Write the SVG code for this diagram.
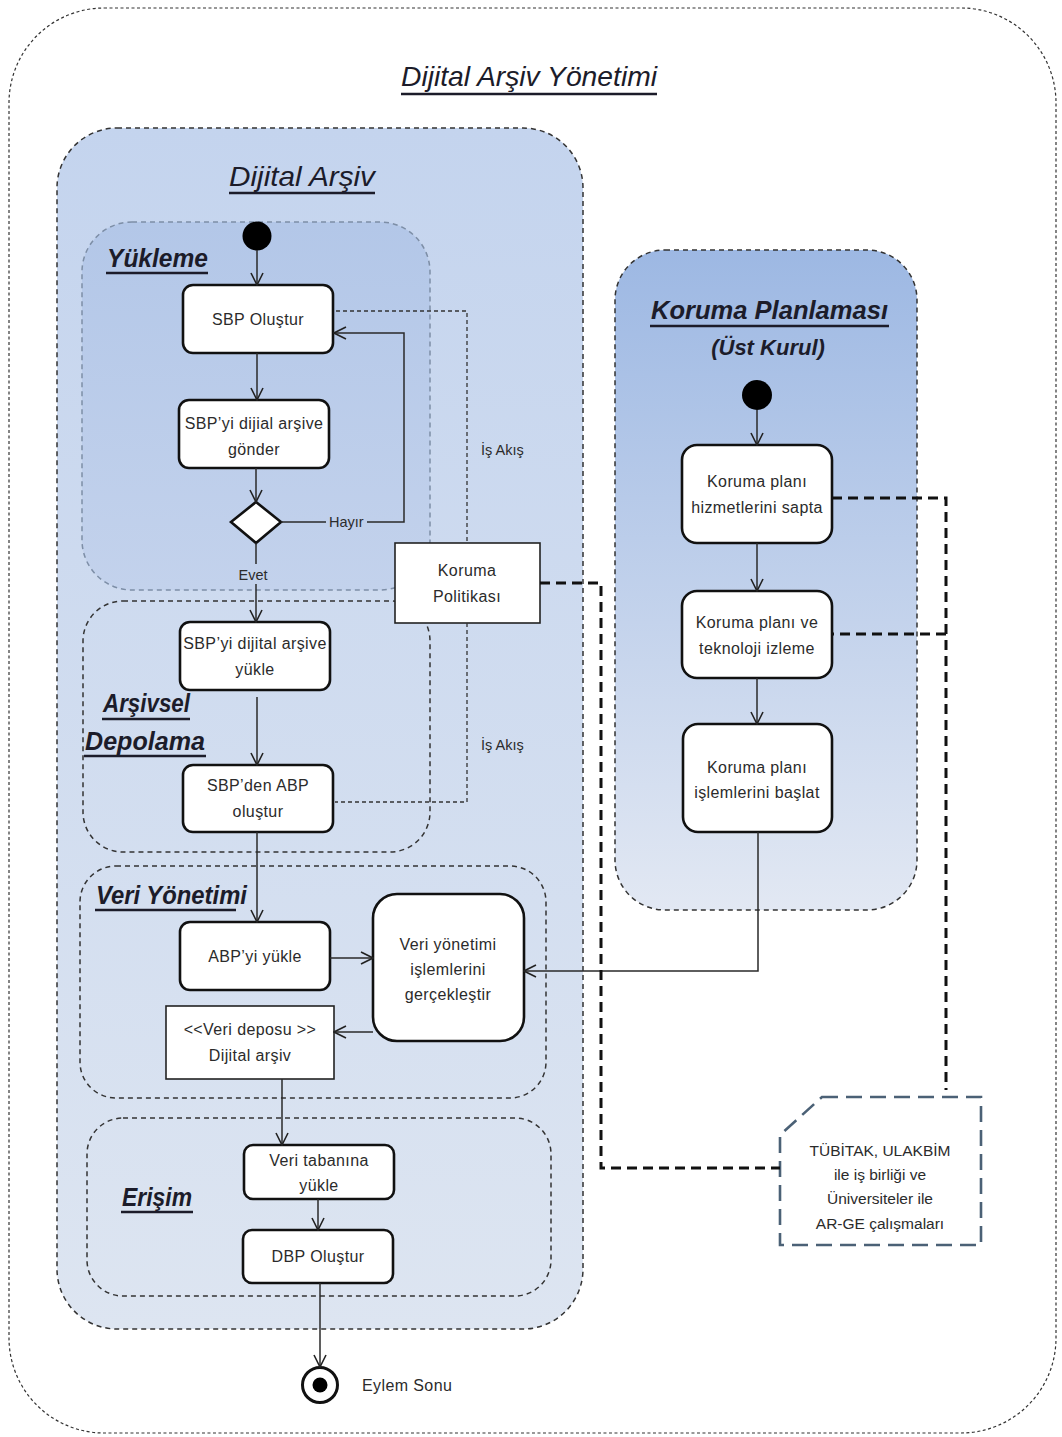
<svg xmlns="http://www.w3.org/2000/svg" width="1062" height="1437" viewBox="0 0 1062 1437">
  <defs>
    <linearGradient id="gArchive" x1="0" y1="0" x2="0" y2="1">
      <stop offset="0" stop-color="#c4d4ee"/>
      <stop offset="1" stop-color="#dde5f1"/>
    </linearGradient>
    <linearGradient id="gUpload" x1="0" y1="0" x2="0" y2="1">
      <stop offset="0" stop-color="#b3c7e8"/>
      <stop offset="1" stop-color="#c3d2ec"/>
    </linearGradient>
    <linearGradient id="gPlan" x1="0" y1="0" x2="0" y2="1">
      <stop offset="0" stop-color="#9db8e3"/>
      <stop offset="1" stop-color="#e2e8f3"/>
    </linearGradient>
    <marker id="arr" viewBox="0 0 14 14" refX="13" refY="7" markerWidth="14" markerHeight="14" orient="auto" markerUnits="userSpaceOnUse">
      <path d="M1,1 L13,7 L1,13" fill="none" stroke="#222" stroke-width="1.6"/>
    </marker>
  </defs>
  <style>
    .frame { fill: #ffffff; stroke: #333; stroke-width: 1.2; stroke-dasharray: 3 2.5; }
    .zone { stroke: #333; stroke-width: 1.5; stroke-dasharray: 5 4; }
    .zoneSoft { stroke: #7d8ea6; stroke-width: 1.5; stroke-dasharray: 5 4; }
    .act { fill: #ffffff; stroke: #111; stroke-width: 2.6; }
    .obj { fill: #ffffff; stroke: #222; stroke-width: 1.6; }
    .note { fill: #ffffff; stroke: #4b6176; stroke-width: 2.6; stroke-dasharray: 16 8; }
    .flow { fill: none; stroke: #2a2a2a; stroke-width: 1.5; }
    .thin { fill: none; stroke: #333; stroke-width: 1.3; stroke-dasharray: 4 3; }
    .thick { fill: none; stroke: #111; stroke-width: 3; stroke-dasharray: 10 6; }
    .uline { stroke: #1c1c2a; stroke-width: 2.6; }
    text { font-family: "Liberation Sans", Arial, sans-serif; fill: #2b2b2b; }
    .lbl { font-size: 16px; letter-spacing: 0.4px; text-anchor: middle; }
    .nt { font-size: 15.5px; text-anchor: middle; }
    .small { font-size: 14.5px; }
    .title { font-style: italic; fill: #1c1c2a; }
    .bt { font-style: italic; font-weight: bold; fill: #1c1c2a; }
  </style>

  <!-- outer frame -->
  <g id="dijital-arsiv-yonetimi">
    <rect class="frame" x="9" y="8" width="1047" height="1425" rx="95"/>
    <text class="title" x="401" y="86" font-size="28" textLength="256" lengthAdjust="spacingAndGlyphs">Dijital Arşiv Yönetimi</text>
    <line class="uline" x1="401" y1="94" x2="657" y2="94"/>
  </g>

  <!-- digital archive container -->
  <g id="dijital-arsiv">
    <rect class="zone" x="57" y="128" width="526" height="1201" rx="60" fill="url(#gArchive)"/>
    <text class="title" x="229" y="186" font-size="28" textLength="146" lengthAdjust="spacingAndGlyphs">Dijital Arşiv</text>
    <line class="uline" x1="229" y1="193" x2="375" y2="193"/>
  </g>

  <g id="yukleme">
    <rect class="zoneSoft" x="82" y="222" width="348" height="368" rx="50" fill="url(#gUpload)"/>
    <text class="bt" x="107" y="267" font-size="25" textLength="101" lengthAdjust="spacingAndGlyphs">Yükleme</text>
    <line class="uline" x1="106" y1="273" x2="208" y2="273"/>
  </g>

  <g id="arsivsel-depolama">
    <rect class="zone" x="83" y="601" width="347" height="251" rx="40" fill="none"/>
    <text class="bt" x="103" y="712" font-size="25" textLength="87" lengthAdjust="spacingAndGlyphs">Arşivsel</text>
    <line class="uline" x1="102" y1="719" x2="190" y2="719"/>
    <text class="bt" x="85" y="750" font-size="25" textLength="120" lengthAdjust="spacingAndGlyphs">Depolama</text>
    <line class="uline" x1="84" y1="756" x2="206" y2="756"/>
  </g>

  <g id="veri-yonetimi">
    <rect class="zone" x="80" y="866" width="466" height="232" rx="36" fill="none"/>
    <text class="bt" x="96" y="904" font-size="25" textLength="151" lengthAdjust="spacingAndGlyphs">Veri Yönetimi</text>
    <line class="uline" x1="95" y1="910" x2="236" y2="910"/>
  </g>

  <g id="erisim">
    <rect class="zone" x="87" y="1118" width="464" height="178" rx="36" fill="none"/>
    <text class="bt" x="122" y="1206" font-size="25" textLength="70" lengthAdjust="spacingAndGlyphs">Erişim</text>
    <line class="uline" x1="121" y1="1212" x2="193" y2="1212"/>
  </g>

  <g id="koruma-planlamasi">
    <rect class="zone" x="615" y="250" width="302" height="660" rx="50" fill="url(#gPlan)" stroke-dasharray="4 3"/>
    <text class="bt" x="651" y="319" font-size="26" textLength="237" lengthAdjust="spacingAndGlyphs">Koruma Planlaması</text>
    <line class="uline" x1="650" y1="326" x2="889" y2="326"/>
    <text class="bt" x="768" y="355" font-size="22" text-anchor="middle">(Üst Kurul)</text>
  </g>

  <!-- activity flow: archive side -->
  <g id="baslangic">
    <circle cx="257" cy="236" r="14.5" fill="#000"/>
  </g>
  <g id="sbp-olustur">
    <rect class="act" x="183" y="285" width="150" height="68" rx="10"/>
    <text class="lbl" x="258" y="325">SBP Oluştur</text>
  </g>
  <g id="sbp-gonder">
    <rect class="act" x="179" y="400" width="150" height="68" rx="10"/>
    <text class="lbl" x="254" y="429">SBP’yi dijial arşive</text>
    <text class="lbl" x="254" y="455">gönder</text>
  </g>
  <g id="karar">
    <polygon points="256,502 281,522 256,543 231,522" fill="#fff" stroke="#111" stroke-width="2.6"/>
  </g>
  <g id="sbp-yukle">
    <rect class="act" x="180" y="622" width="150" height="68" rx="10"/>
    <text class="lbl" x="255" y="649">SBP’yi dijital arşive</text>
    <text class="lbl" x="255" y="675">yükle</text>
  </g>
  <g id="abp-olustur">
    <rect class="act" x="183" y="765" width="150" height="67" rx="10"/>
    <text class="lbl" x="258" y="791">SBP’den ABP</text>
    <text class="lbl" x="258" y="817">oluştur</text>
  </g>
  <g id="abp-yukle">
    <rect class="act" x="180" y="922" width="150" height="68" rx="10"/>
    <text class="lbl" x="255" y="962">ABP’yi yükle</text>
  </g>
  <g id="veri-islemleri">
    <rect class="act" x="373" y="894" width="151" height="147" rx="24"/>
    <text class="lbl" x="448" y="950">Veri yönetimi</text>
    <text class="lbl" x="448" y="975">işlemlerini</text>
    <text class="lbl" x="448" y="1000">gerçekleştir</text>
  </g>
  <g id="veri-deposu">
    <rect class="obj" x="166" y="1006" width="168" height="73"/>
    <text class="lbl" x="250" y="1035">&lt;&lt;Veri deposu &gt;&gt;</text>
    <text class="lbl" x="250" y="1061">Dijital arşiv</text>
  </g>
  <g id="veri-tabani">
    <rect class="act" x="244" y="1145" width="150" height="54" rx="9"/>
    <text class="lbl" x="319" y="1166">Veri tabanına</text>
    <text class="lbl" x="319" y="1191">yükle</text>
  </g>
  <g id="dbp-olustur">
    <rect class="act" x="243" y="1230" width="150" height="53" rx="9"/>
    <text class="lbl" x="318" y="1262">DBP Oluştur</text>
  </g>
  <g id="eylem-sonu">
    <circle cx="320" cy="1385" r="17.5" fill="#fff" stroke="#111" stroke-width="3"/>
    <circle cx="320" cy="1385" r="7.5" fill="#000"/>
    <text class="lbl" x="362" y="1391" style="text-anchor:start">Eylem Sonu</text>
  </g>
  <g id="koruma-politikasi">
    <rect class="obj" x="395" y="543" width="145" height="80"/>
    <text class="lbl" x="467" y="576">Koruma</text>
    <text class="lbl" x="467" y="602">Politikası</text>
  </g>

  <!-- activity flow: preservation planning side -->
  <g id="baslangic-koruma">
    <circle cx="757" cy="395" r="15" fill="#000"/>
  </g>
  <g id="hizmet-sapta">
    <rect class="act" x="682" y="445" width="150" height="98" rx="15"/>
    <text class="lbl" x="757" y="487">Koruma planı</text>
    <text class="lbl" x="757" y="513">hizmetlerini sapta</text>
  </g>
  <g id="teknoloji-izleme">
    <rect class="act" x="682" y="591" width="150" height="87" rx="15"/>
    <text class="lbl" x="757" y="628">Koruma planı ve</text>
    <text class="lbl" x="757" y="654">teknoloji izleme</text>
  </g>
  <g id="islem-baslat">
    <rect class="act" x="683" y="724" width="149" height="108" rx="15"/>
    <text class="lbl" x="757" y="773">Koruma planı</text>
    <text class="lbl" x="757" y="798">işlemlerini başlat</text>
  </g>
  <g id="is-birligi-notu">
    <path class="note" d="M822,1097 L981,1097 L981,1245 L780,1245 L780,1135 Z"/>
    <text class="nt" x="880" y="1156">TÜBİTAK, ULAKBİM</text>
    <text class="nt" x="880" y="1180">ile iş birliği ve</text>
    <text class="nt" x="880" y="1204">Üniversiteler ile</text>
    <text class="nt" x="880" y="1229">AR-GE çalışmaları</text>
  </g>

  <!-- connectors -->
  <g id="connectors">
    <line class="flow" x1="257" y1="250" x2="257" y2="285" marker-end="url(#arr)"/>
    <line class="flow" x1="257" y1="353" x2="257" y2="400" marker-end="url(#arr)"/>
    <line class="flow" x1="256" y1="468" x2="256" y2="502" marker-end="url(#arr)"/>
    <line class="flow" x1="281" y1="522" x2="326" y2="522"/>
    <polyline class="flow" points="367,522 404,522 404,333 334,333" marker-end="url(#arr)"/>
    <line class="flow" x1="256" y1="543" x2="256" y2="564"/>
    <line class="flow" x1="256" y1="584" x2="256" y2="622" marker-end="url(#arr)"/>
    <line class="flow" x1="257" y1="697" x2="257" y2="765" marker-end="url(#arr)"/>
    <line class="flow" x1="257" y1="832" x2="257" y2="922" marker-end="url(#arr)"/>
    <line class="flow" x1="330" y1="958" x2="373" y2="958" marker-end="url(#arr)"/>
    <line class="flow" x1="373" y1="1032" x2="334" y2="1032" marker-end="url(#arr)"/>
    <line class="flow" x1="282" y1="1079" x2="282" y2="1145" marker-end="url(#arr)"/>
    <line class="flow" x1="318" y1="1199" x2="318" y2="1230" marker-end="url(#arr)"/>
    <line class="flow" x1="320" y1="1283" x2="320" y2="1367" marker-end="url(#arr)"/>

    <line class="flow" x1="757" y1="410" x2="757" y2="445" marker-end="url(#arr)"/>
    <line class="flow" x1="757" y1="543" x2="757" y2="591" marker-end="url(#arr)"/>
    <line class="flow" x1="757" y1="678" x2="757" y2="724" marker-end="url(#arr)"/>
    <polyline class="flow" points="758,832 758,971 524,971" marker-end="url(#arr)"/>

    <!-- workflow links to the policy -->
    <polyline class="thin" points="336,311 467,311 467,543"/>
    <polyline class="thin" points="467,623 467,802 335,802"/>

    <!-- cooperation links -->
    <polyline class="thick" points="540,583 601,583 601,1168 780,1168"/>
    <polyline class="thick" points="832,498 946,498 946,1090"/>
    <line class="thick" x1="946" y1="634" x2="832" y2="634"/>
  </g>

  <!-- connector labels -->
  <g id="connector-labels">
    <text class="small" x="329" y="527">Hayır</text>
    <text class="small" x="253" y="580" text-anchor="middle">Evet</text>
    <text class="small" x="481" y="455">İş Akış</text>
    <text class="small" x="481" y="750">İş Akış</text>
  </g>
</svg>
